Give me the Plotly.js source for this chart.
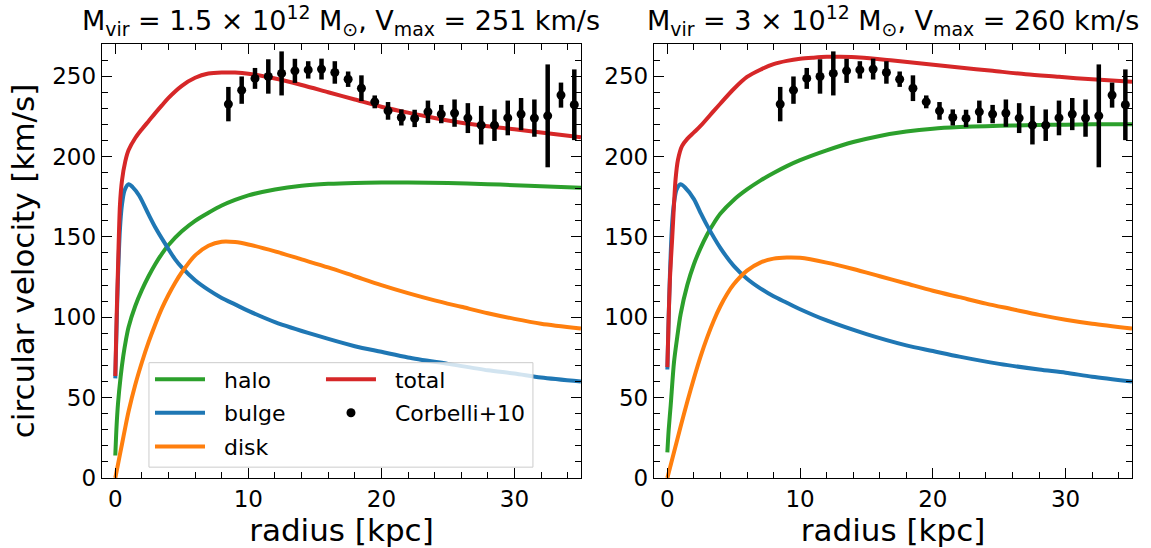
<!DOCTYPE html>
<html><head><meta charset="utf-8">
<script src="https://cdn.plot.ly/plotly-3.0.1.min.js"></script>
<style>html,body{margin:0;padding:0;background:#fff}#chart{width:1151px;height:548px}</style>
</head><body><div id="chart"></div><script>
// ---- Left panel: M_vir = 1.5e12 ----
const haloR1 = [0,0.1,0.2,0.4,0.6,0.8,1,1.5,2,2.5,3,3.5,4,5,6,7,8,9,10,12,14,16,18,20,22,25,28,30,32,35];
const haloV1 = [14,33,46,63,76,86,94,107,117,125.5,133,139.5,145,153.5,160,165,169.5,173,175.8,179.5,181.8,183,183.6,183.8,183.8,183.5,182.8,182.2,181.5,180.5];
const bulgeR1 = [0,0.1,0.2,0.35,0.5,0.7,1,1.3,1.8,2.5,3,3.8,4.5,5,6,7,8,9,10,12,15,18,20,22,25,28,30,32,35];
const bulgeV1 = [62,95,125,155,170,179,182.8,181,175.6,164,156,145,136,131,123,117,112,108,104,97,89,82,78.5,75,71,67,65,62.5,60];
const diskR1 = [0,0.25,0.5,0.75,1,1.5,2,2.5,3,3.5,4,4.5,5,6,7,8,9,10,12,14,16,18,20,22,24,26,28,30,32,35];
const diskV1 = [0,10.5,21,31.5,41.5,58,72,84.5,95.5,105.5,114,121.5,128,138.5,144.5,147,146.8,145.3,141,136,131,125.5,120,115,110.5,106.5,102.5,99,96,93];
const totalR1 = [0,0.1,0.2,0.35,0.5,0.75,1,1.5,2,2.5,3,3.5,4,5,6,7,8,9,10,12,14,16,18,20,22,24,26,28,30,32,35];
const totalV1 = [63.5,100,130,170,185,197,204,211.5,217,222,227,231.8,236.5,244,249,251.6,252.3,252.2,251.5,248.5,244.5,240,235.5,231,227.3,224,221,218.8,217,215,212];

// ---- Right panel: M_vir = 3e12 ----
const haloR2 = [0,0.1,0.25,0.5,0.75,1,1.5,2,2.5,3,3.5,4,5,6,7,8,9,10,12,14,16,18,20,22,24,26,28,30,32,35];
const haloV2 = [16,30,45,72,88,102,120,133,143,151.5,158.5,164.5,173,179.5,185,189.7,194,197.7,203.8,209,212.8,215.5,217.3,218.3,218.9,219.3,219.6,219.8,220,220];
const bulgeR2 = [0,0.1,0.2,0.35,0.5,0.7,1,1.3,2,2.5,3,4,5,6,7,8,9,10,12,15,18,20,22,25,28,30,32,35];
const bulgeV2 = [67.5,100,128,157,171,179.5,182.8,181,173.5,165,157,143,132,124,118,113,109,105,98,89.5,82.5,79,75.5,71,67.5,65.5,63,60];
const diskR2 = [0,0.5,1,1.5,2,2.5,3,3.5,4,4.5,5,6,7,8,9,10,12,14,16,18,20,22,24,26,28,30,32,35];
const diskV2 = [0,16,32,47.5,62,75.5,87.5,98,107,114.5,120.5,129,134,136.5,137.2,137,134,130,125.5,121,116.5,112.5,108.5,105,101.5,98.5,96,93];
const totalR2 = [0,0.1,0.2,0.37,0.5,0.62,0.8,1.1,1.5,2,2.5,3.5,4,5,6,7,8,9,10,11,12,13,14.5,17,19.5,22,24.5,27,29.5,32,35];
const totalV2 = [69,100,125,150,170,186,198,206.5,211,215,219,228.4,233,242,249.5,254,257.5,259.5,260.8,261.5,262,262,261.6,259.7,257.6,255.4,253.3,251.2,249.6,248,246.5];

// ---- Corbelli+10 observations ----
const obsR = [8.5,9.5,10.5,11.5,12.5,13.5,14.5,15.5,16.5,17.5,18.5,19.5,20.5,21.5,22.5,23.5,24.5,25.5,26.5,27.5,28.5,29.5,30.5,31.5,32.5,33.5,34.5];
const obsV = [232.6,241.3,248.6,249.8,251.7,253.3,253.9,254.4,252.3,248.1,242.5,234,228.4,224.3,223.7,227.8,226.4,227,223.9,219.5,219.5,224,226.4,223.9,225.3,238.2,232.2];
const obsErr = [10.7,8.5,6.5,10.7,13.7,7.5,5.4,6.5,7,4.8,8,4,5.5,5,5.4,7,5.7,8.5,9.3,12,9.8,10.8,10,11.6,32,7.8,22];

const titles = [
  'M<sub>vir</sub> = 1.5 × 10<sup>12</sup> M<sub>⊙</sub>, V<sub>max</sub> = 251 km/s',
  'M<sub>vir</sub> = 3 × 10<sup>12</sup> M<sub>⊙</sub>, V<sub>max</sub> = 260 km/s'
];
const names = {halo:'halo', bulge:'bulge', disk:'disk', total:'total', obs:'Corbelli+10'};
const colors = {halo:'#2ca02c', bulge:'#1f77b4', disk:'#ff7f0e', total:'#d62728'};

const FONT = 'DejaVu Sans, sans-serif';
const PAD = '\u00a0\u00a0';
const traces = [];
function curve(r, v, key, ax, show, leg) {
  traces.push({x:r, y:v, type:'scatter', mode:'lines', name:PAD + names[key],
    line:{color:colors[key], width:4, shape:'spline', smoothing:0.8},
    xaxis:'x'+ax, yaxis:'y'+ax, showlegend:show, legend:leg, legendgroup:key});
}
curve(haloR1, haloV1, 'halo', '', true, 'legend');
curve(bulgeR1, bulgeV1, 'bulge', '', true, 'legend');
curve(diskR1, diskV1, 'disk', '', true, 'legend');
curve(totalR1, totalV1, 'total', '', true, 'legend2');
curve(haloR2, haloV2, 'halo', '2', false, 'legend');
curve(bulgeR2, bulgeV2, 'bulge', '2', false, 'legend');
curve(diskR2, diskV2, 'disk', '2', false, 'legend');
curve(totalR2, totalV2, 'total', '2', false, 'legend2');
['', '2'].forEach((ax, i) => {
  traces.push({x:obsR, y:obsV, type:'scatter', mode:'markers', name:PAD + names.obs,
    marker:{color:'black', size:9},
    error_y:{type:'data', array:obsErr, visible:true, color:'black', thickness:4.5, width:0},
    xaxis:'x'+ax, yaxis:'y'+ax, showlegend:i===0, legend:'legend2', legendgroup:'obs'});
});

function xax(domain, anchor) {
  return {domain:domain, anchor:anchor, range:[-1,35], dtick:10, tick0:0,
    ticks:'inside', ticklen:10, tickwidth:1.2, tickcolor:'black',
    minor:{dtick:2, ticks:'inside', ticklen:6, tickwidth:1, tickcolor:'black'},
    showline:true, linecolor:'black', linewidth:1.3, mirror:'allticks',
    showgrid:false, zeroline:false,
    tickfont:{family:FONT, size:23, color:'black'},
    title:{text:'radius [kpc]', font:{family:FONT, size:31, color:'black'}, standoff:2}};
}
function yax(anchor, withTitle) {
  const a = {anchor:anchor, range:[0,270], dtick:50, tick0:0,
    ticks:'inside', ticklen:10, tickwidth:1.2, tickcolor:'black',
    minor:{dtick:10, ticks:'inside', ticklen:6, tickwidth:1, tickcolor:'black'},
    showline:true, linecolor:'black', linewidth:1.3, mirror:'allticks',
    showgrid:false, zeroline:false,
    tickfont:{family:FONT, size:23, color:'black'}};
  if (withTitle) a.title = {text:'circular velocity [km/s]', font:{family:FONT, size:31, color:'black'}, standoff:8};
  return a;
}

const legendFont = {family:FONT, size:22, color:'black'};
const layout = {
  width:1151, height:548,
  margin:{l:102, r:19, t:44, b:70},
  paper_bgcolor:'white', plot_bgcolor:'white',
  font:{family:FONT, color:'black'},
  xaxis: xax([0, 0.465], 'y'),
  yaxis: yax('x', true),
  xaxis2: xax([0.536, 1], 'y2'),
  yaxis2: yax('x2', false),
  legend:{x:0.0466, y:0.2756, xanchor:'left', yanchor:'top', bgcolor:'rgba(0,0,0,0)',
    font:legendFont, itemwidth:50, traceorder:'grouped', tracegroupgap:2},
  legend2:{x:0.2126, y:0.2756, xanchor:'left', yanchor:'top', bgcolor:'rgba(0,0,0,0)',
    font:legendFont, itemwidth:50, traceorder:'grouped', tracegroupgap:2},
  shapes:[{type:'rect', xref:'paper', yref:'paper', x0:0.0456, x1:0.4184, y0:0.025, y1:0.2657,
    fillcolor:'rgba(255,255,255,0.8)', line:{color:'#cccccc', width:1}, layer:'above'}],
  annotations:[
    {text:titles[0], xref:'paper', yref:'paper', x:0.2325, y:1, xanchor:'center', yanchor:'bottom', yshift:2,
      showarrow:false, font:{family:FONT, size:27, color:'black'}},
    {text:titles[1], xref:'paper', yref:'paper', x:0.768, y:1, xanchor:'center', yanchor:'bottom', yshift:2,
      showarrow:false, font:{family:FONT, size:27, color:'black'}}
  ]
};
Plotly.newPlot('chart', traces, layout, {displayModeBar:false, staticPlot:true});
</script></body></html>
